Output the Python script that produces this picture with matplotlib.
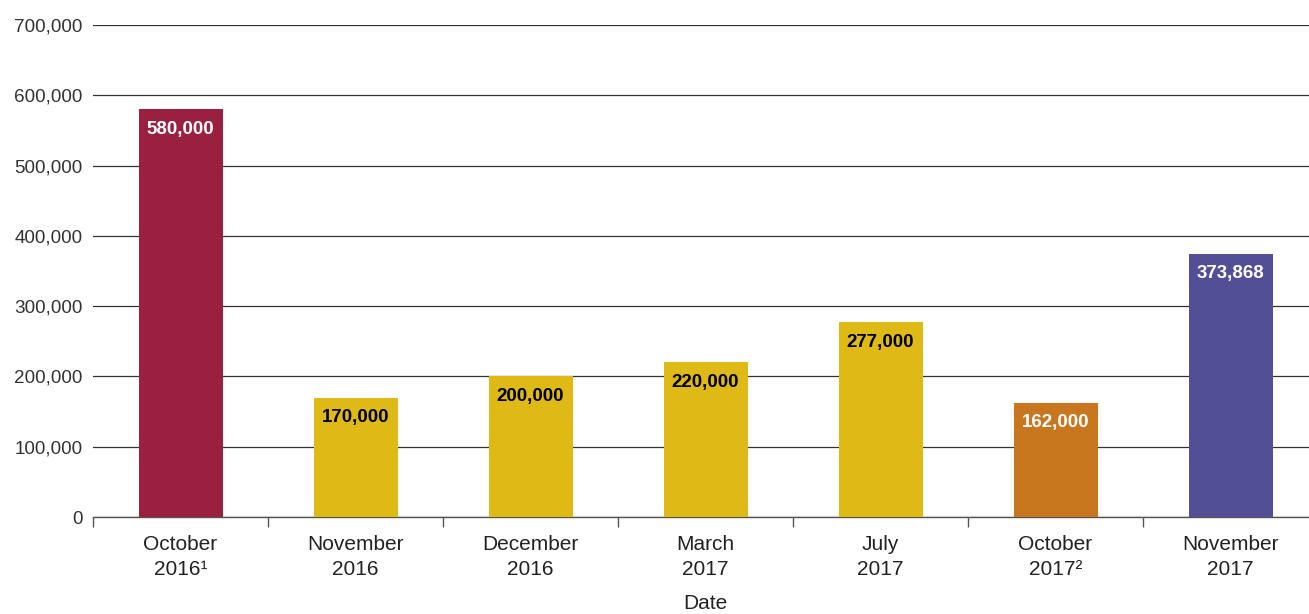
import matplotlib.pyplot as plt
from matplotlib.ticker import FuncFormatter, FixedLocator, NullFormatter

plt.rcParams['font.family'] = ['Liberation Sans', 'DejaVu Sans']

# Data
dates = ['October\n2016\u00b9', 'November\n2016', 'December\n2016', 'March\n2017',
         'July\n2017', 'October\n2017\u00b2', 'November\n2017']
values = [580000, 170000, 200000, 220000, 277000, 162000, 373868]
colors = ['#9B2040', '#DFB915', '#DFB915', '#DFB915', '#DFB915', '#C8771F', '#524F96']
label_colors = ['white', 'black', 'black', 'black', 'black', 'white', 'white']

fig = plt.figure(figsize=(13.09, 6.14), dpi=100)
ax = fig.add_axes([93 / 1309, 97 / 614, 1225 / 1309, 492 / 614])

x = range(len(values))
bars = ax.bar(x, values, width=0.48, color=colors, zorder=3)

for b, v, c in zip(bars, values, label_colors):
    ax.text(b.get_x() + b.get_width() / 2, v - 16000, f'{v:,}', ha='center', va='top',
            color=c, fontsize=13.5, fontweight='semibold', zorder=4)

ax.set_xlim(-0.5, 6.5)
ax.set_ylim(0, 700000)
ax.set_yticks(range(0, 700001, 100000))
ax.yaxis.set_major_formatter(FuncFormatter(lambda v, p: f'{int(v):,}'))
ax.grid(axis='y', color='#333333', linewidth=0.9, zorder=0)
ax.tick_params(axis='y', length=0, labelsize=13.6, colors='#333333', pad=7.5)

# category boundary ticks, labels at centers
ax.xaxis.set_major_locator(FixedLocator([i - 0.5 for i in range(8)]))
ax.xaxis.set_major_formatter(NullFormatter())
ax.xaxis.set_minor_locator(FixedLocator(list(x)))
ax.set_xticklabels(dates, minor=True, linespacing=1.4)
ax.tick_params(axis='x', which='major', length=7, color='#555555', width=1)
ax.tick_params(axis='x', which='minor', length=0, labelsize=15, colors='#222222', pad=13)

for s in ['top', 'right', 'left']:
    ax.spines[s].set_visible(False)
ax.spines['bottom'].set_color('#555555')
ax.spines['bottom'].set_linewidth(1)

ax.set_xlabel('Date', fontsize=15, color='#222222', labelpad=11)

plt.savefig('out.png', dpi=100)
